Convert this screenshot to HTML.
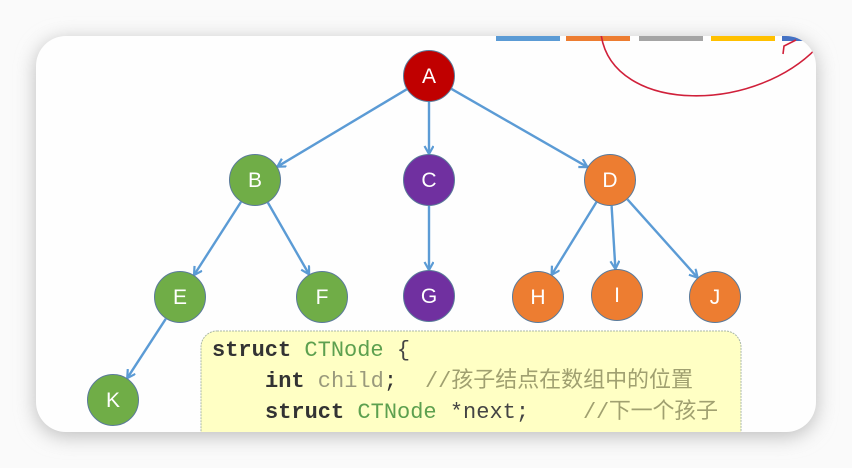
<!DOCTYPE html>
<html><head><meta charset="utf-8"><style>
html,body{margin:0;padding:0;width:852px;height:468px;overflow:hidden;background:#f4f4f4;}
</style></head><body>
<svg width="852" height="468" viewBox="0 0 852 468" xmlns="http://www.w3.org/2000/svg">
<defs>
<filter id="sh" x="-10%" y="-10%" width="120%" height="130%"><feGaussianBlur stdDeviation="10"/></filter>
<marker id="ar" markerWidth="12" markerHeight="12" refX="9" refY="5" orient="auto" markerUnits="userSpaceOnUse">
<path d="M1,0.5 L9,5 L1,9.5" fill="none" stroke="#5b9bd5" stroke-width="2.2"/></marker>
<clipPath id="cc"><rect x="36" y="36" width="780" height="396" rx="30"/></clipPath>
</defs>
<rect x="0" y="0" width="852" height="468" fill="#fafafa"/>
<rect x="36" y="40" width="780" height="396" rx="30" fill="#bbb" filter="url(#sh)"/>
<rect x="36" y="36" width="780" height="396" rx="30" fill="#fefefe"/>
<g clip-path="url(#cc)">
<rect x="496" y="34" width="64" height="7" fill="#5b9bd5"/>
<rect x="566" y="34" width="64" height="7" fill="#ed7d31"/>
<rect x="639" y="34" width="64" height="7" fill="#a5a5a5"/>
<rect x="711" y="34" width="64" height="7" fill="#ffc000"/>
<rect x="782" y="34" width="40" height="7" fill="#4472c4"/>
<path d="M601,34 C612,115 760,115 822,42" fill="none" stroke="#d0203a" stroke-width="1.6"/>
<path d="M783,54 L784,46 L796,40" fill="none" stroke="#d0203a" stroke-width="1.6"/>
<g stroke="#5b9bd5" stroke-width="2.4" marker-end="url(#ar)">
<line x1="406.7" y1="89.3" x2="277.3" y2="166.7"/>
<line x1="429" y1="102" x2="429" y2="154"/>
<line x1="451.5" y1="88.9" x2="587.5" y2="167.1"/>
<line x1="241" y1="201.9" x2="194" y2="275.1"/>
<line x1="267.9" y1="202.6" x2="309.1" y2="274.4"/>
<line x1="429" y1="206" x2="429" y2="270"/>
<line x1="596.4" y1="202.1" x2="551.6" y2="274.9"/>
<line x1="611.6" y1="206" x2="615.4" y2="269"/>
<line x1="627.4" y1="199.3" x2="697.6" y2="277.7"/>
<line x1="165.8" y1="318.8" x2="127.2" y2="378.2"/>
</g>
<g stroke="#5a7a9a" stroke-width="1" fill="#fff">
<circle cx="429" cy="76" r="25.5" fill="#c00000"/>
<circle cx="255" cy="180" r="25.5" fill="#70ad47"/>
<circle cx="429" cy="180" r="25.5" fill="#7030a0"/>
<circle cx="610" cy="180" r="25.5" fill="#ed7d31"/>
<circle cx="180" cy="297" r="25.5" fill="#70ad47"/>
<circle cx="322" cy="297" r="25.5" fill="#70ad47"/>
<circle cx="429" cy="296" r="25.5" fill="#7030a0"/>
<circle cx="538" cy="297" r="25.5" fill="#ed7d31"/>
<circle cx="617" cy="295" r="25.5" fill="#ed7d31"/>
<circle cx="715" cy="297" r="25.5" fill="#ed7d31"/>
<circle cx="113" cy="400" r="25.5" fill="#70ad47"/>
</g>
<g font-family="Liberation Sans, sans-serif" font-size="21" fill="#fff" text-anchor="middle">
<text x="429" y="83">A</text><text x="255" y="187">B</text><text x="429" y="187">C</text><text x="610" y="187">D</text>
<text x="180" y="304">E</text><text x="322" y="304">F</text><text x="429" y="303">G</text><text x="538" y="304">H</text>
<text x="617" y="302">I</text><text x="715" y="304">J</text><text x="113" y="407">K</text>
</g>
<rect x="201" y="331" width="540" height="130" rx="16" fill="#ffffc4" stroke="#aab8a8" stroke-width="1" stroke-dasharray="2,1"/>
<g font-family="Liberation Mono, monospace" font-size="22">
<text x="212" y="356"><tspan fill="#333" font-weight="bold">struct</tspan><tspan fill="#5da04f"> CTNode</tspan><tspan fill="#444"> {</tspan></text>
<text x="265" y="387"><tspan fill="#333" font-weight="bold">int</tspan><tspan fill="#9a9a7c"> child</tspan><tspan fill="#333">;</tspan></text>
<text x="265" y="418"><tspan fill="#333" font-weight="bold">struct</tspan><tspan fill="#5da04f"> CTNode</tspan><tspan fill="#444"> *next;</tspan></text>
</g>
<g font-family="Liberation Mono, 'Noto Sans CJK SC', monospace" font-size="22" fill="#a0a070">
<text x="425" y="387" textLength="268">//孩子结点在数组中的位置</text>
<text x="583" y="418" textLength="135">//下一个孩子</text>
</g>
</g>
</svg>
</body></html>
